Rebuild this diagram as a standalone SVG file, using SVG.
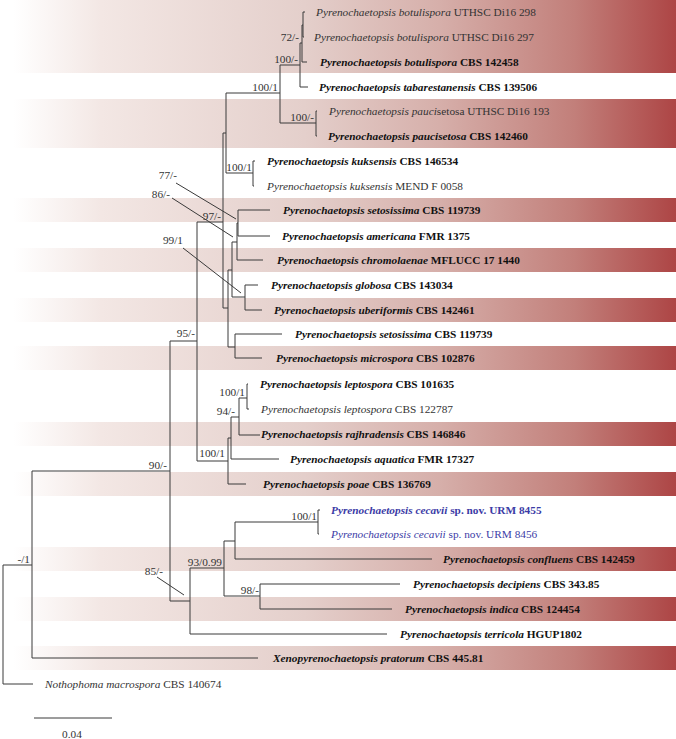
<svg xmlns="http://www.w3.org/2000/svg" width="676" height="739" viewBox="0 0 676 739">
<defs>
<linearGradient id="band" x1="0" y1="0" x2="676" y2="0" gradientUnits="userSpaceOnUse">
<stop offset="0" stop-color="#ffffff"/>
<stop offset="0.02" stop-color="#ffffff"/>
<stop offset="0.15" stop-color="#f3e7e4"/>
<stop offset="0.45" stop-color="#e4cfcb"/>
<stop offset="0.65" stop-color="#d6afaa"/>
<stop offset="0.85" stop-color="#c27f7a"/>
<stop offset="1" stop-color="#ad4545"/>
</linearGradient>
<style>
text{font-family:"Liberation Serif","Times New Roman",serif;font-size:11.3px;fill:#333}
.b{font-weight:bold;fill:#111}
.i{font-style:italic}
.blue{fill:#3b3ba6}
.sup{fill:#333}
.tree path,.tree line{fill:none;stroke:#3a3a3a;stroke-width:1}
</style>
</defs>
<rect width="676" height="739" fill="#ffffff"/>
<g id="bands" fill="url(#band)">
<rect x="0" y="0" width="676" height="73"/>
<rect x="0" y="99" width="676" height="49"/>
<rect x="0" y="198" width="676" height="24"/>
<rect x="0" y="248" width="676" height="24"/>
<rect x="0" y="298" width="676" height="24"/>
<rect x="0" y="346" width="676" height="24"/>
<rect x="0" y="422" width="676" height="24"/>
<rect x="0" y="472" width="676" height="24"/>
<rect x="0" y="547" width="676" height="24"/>
<rect x="0" y="597" width="676" height="24"/>
<rect x="0" y="646" width="676" height="24"/>
</g>
<g id="connectors" class="tree">
<path d="M33,684 H3 V565 H32"/>
<path d="M32,471 V658 H258"/>
<path d="M32,471 H170"/>
<path d="M170,341 V601 H190"/>
<path d="M170,341 H197"/>
<path d="M197,222 V461 H228"/>
<path d="M190,568 V634 H387"/>
<path d="M190,568 H224"/>
<path d="M224,541 V596 H260"/>
<path d="M224,541 H235"/>
<path d="M235,522 V559 H432"/>
<path d="M235,522 H318"/>
<path d="M318,510 V534 M318,510 H320 M318,534 H319"/>
<path d="M260,584 V609 H392 M260,584 H400"/>
<path d="M228,438 V484 H246"/>
<path d="M228,438 H231"/>
<path d="M231,417 V459 H279"/>
<path d="M231,417 H239"/>
<path d="M239,398 V435 H260"/>
<path d="M239,398 H247"/>
<path d="M247,384 V409 M247,384 H248 M247,409 H249"/>
<path d="M197,222 H223"/>
<path d="M223,133 V308"/>
<path d="M223,133 H226"/>
<path d="M226,93 V173 H253"/>
<path d="M253,161 V186 M253,161 H255 M253,186 H254"/>
<path d="M226,93 H280"/>
<path d="M280,65 V123 H316"/>
<path d="M316,111 V136 M316,111 H317 M316,136 H317"/>
<path d="M280,65 H300"/>
<path d="M300,43 V87 H308"/>
<path d="M300,43 H302"/>
<path d="M302,25 V62 H307"/>
<path d="M302,25 H303"/>
<path d="M303,12 V37 M303,12 H305 M303,37 H304"/>
<path d="M223,308 H228"/>
<path d="M228,270 V347 H235"/>
<path d="M235,334 V358 M235,334 H282 M235,358 H262"/>
<path d="M228,270 H232"/>
<path d="M232,242 V297 H245"/>
<path d="M245,285 V310 M245,285 H258 M245,310 H262"/>
<path d="M232,242 H237"/>
<path d="M237,223 V260 H263"/>
<path d="M237,223 H238"/>
<path d="M238,210 V236 M238,210 H270 M238,236 H270"/>
<line x1="176" y1="183" x2="236" y2="219"/>
<line x1="172" y1="198" x2="233" y2="237"/>
<line x1="183" y1="248" x2="241" y2="293"/>
<line x1="157" y1="577" x2="184" y2="595"/>
<line x1="34" y1="718" x2="112" y2="718"/>
</g>
<g id="supports" text-anchor="end">
<text class="sup" x="299" y="41">72/-</text>
<text class="sup" x="298" y="63">100/-</text>
<text class="sup" x="278" y="91">100/1</text>
<text class="sup" x="314" y="121">100/-</text>
<text class="sup" x="252" y="171">100/1</text>
<text class="sup" x="221" y="220">97/-</text>
<text class="sup" x="177" y="179">77/-</text>
<text class="sup" x="170" y="198">86/-</text>
<text class="sup" x="183" y="244">99/1</text>
<text class="sup" x="195" y="337">95/-</text>
<text class="sup" x="245" y="396">100/1</text>
<text class="sup" x="235" y="415">94/-</text>
<text class="sup" x="225" y="457">100/1</text>
<text class="sup" x="167" y="469">90/-</text>
<text class="sup" x="317" y="520">100/1</text>
<text class="sup" x="222" y="566">93/0.99</text>
<text class="sup" x="30" y="563">-/1</text>
<text class="sup" x="163" y="575">85/-</text>
<text class="sup" x="259" y="594">98/-</text>
</g>
<g id="tip1"><text x="316" y="16"><tspan class="i">Pyrenochaetopsis botulispora</tspan> UTHSC Di16 298</text></g>
<g id="tip2"><text x="314" y="41"><tspan class="i">Pyrenochaetopsis botulispora</tspan> UTHSC Di16 297</text></g>
<g id="tip3"><text class="b" x="320" y="66"><tspan class="i">Pyrenochaetopsis botulispora</tspan> CBS 142458</text></g>
<g id="tip4"><text class="b" x="319" y="91"><tspan class="i">Pyrenochaetopsis tabarestanensis</tspan> CBS 139506</text></g>
<g id="tip5"><text x="329" y="115"><tspan class="i">Pyrenochaetopsis pauci</tspan>setosa UTHSC Di16 193</text></g>
<g id="tip6"><text class="b" x="328" y="140"><tspan class="i">Pyrenochaetopsis paucisetosa</tspan> CBS 142460</text></g>
<g id="tip7"><text class="b" x="267" y="165"><tspan class="i">Pyrenochaetopsis kuksensis</tspan> CBS 146534</text></g>
<g id="tip8"><text x="267" y="190"><tspan class="i">Pyrenochaetopsis kuksensis</tspan> MEND F 0058</text></g>
<g id="tip9"><text class="b" x="283" y="214"><tspan class="i">Pyrenochaetopsis setosissima</tspan> CBS 119739</text></g>
<g id="tip10"><text class="b" x="282" y="240"><tspan class="i">Pyrenochaetopsis americana</tspan> FMR 1375</text></g>
<g id="tip11"><text class="b" x="277" y="264"><tspan class="i">Pyrenochaetopsis chromolaenae</tspan> MFLUCC 17 1440</text></g>
<g id="tip12"><text class="b" x="271" y="289"><tspan class="i">Pyrenochaetopsis globosa</tspan> CBS 143034</text></g>
<g id="tip13"><text class="b" x="274" y="314"><tspan class="i">Pyrenochaetopsis uberiformis</tspan> CBS 142461</text></g>
<g id="tip14"><text class="b" x="295" y="338"><tspan class="i">Pyrenochaetopsis setosissima</tspan> CBS 119739</text></g>
<g id="tip15"><text class="b" x="276" y="362"><tspan class="i">Pyrenochaetopsis microspora</tspan> CBS 102876</text></g>
<g id="tip16"><text class="b" x="260" y="388"><tspan class="i">Pyrenochaetopsis leptospora</tspan> CBS 101635</text></g>
<g id="tip17"><text x="261" y="413"><tspan class="i">Pyrenochaetopsis leptospora</tspan> CBS 122787</text></g>
<g id="tip18"><text class="b" x="261" y="438"><tspan class="i">Pyrenochaetopsis rajhradensis</tspan> CBS 146846</text></g>
<g id="tip19"><text class="b" x="290" y="463"><tspan class="i">Pyrenochaetopsis aquatica</tspan> FMR 17327</text></g>
<g id="tip20"><text class="b" x="263" y="488"><tspan class="i">Pyrenochaetopsis poae</tspan> CBS 136769</text></g>
<g id="tip21"><text class="b blue" x="331" y="514"><tspan class="i">Pyrenochaetopsis cecavii</tspan> sp. nov. URM 8455</text></g>
<g id="tip22"><text class="blue" x="331" y="538"><tspan class="i">Pyrenochaetopsis cecavii</tspan> sp. nov. URM 8456</text></g>
<g id="tip23"><text class="b" x="443" y="563"><tspan class="i">Pyrenochaetopsis confluens</tspan> CBS 142459</text></g>
<g id="tip24"><text class="b" x="413" y="588"><tspan class="i">Pyrenochaetopsis decipiens</tspan> CBS 343.85</text></g>
<g id="tip25"><text class="b" x="405" y="613"><tspan class="i">Pyrenochaetopsis indica</tspan> CBS 124454</text></g>
<g id="tip26"><text class="b" x="400" y="638"><tspan class="i">Pyrenochaetopsis terricola</tspan> HGUP1802</text></g>
<g id="tip27"><text class="b" x="273" y="662"><tspan class="i">Xenopyrenochaetopsis pratorum</tspan> CBS 445.81</text></g>
<g id="tip28"><text x="45" y="688"><tspan class="i">Nothophoma macrospora</tspan> CBS 140674</text></g>
<g id="scalebar"><text x="72" y="738" text-anchor="middle">0.04</text></g>
</svg>
